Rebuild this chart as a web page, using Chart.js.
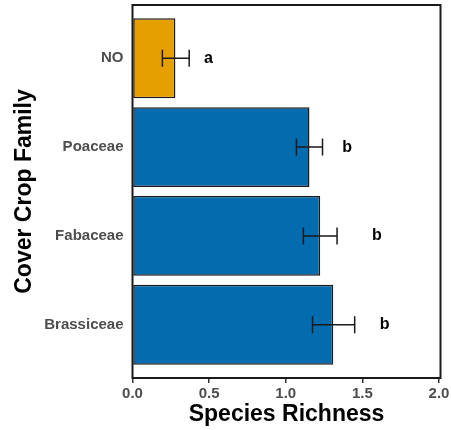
<!DOCTYPE html>
<html>
<head>
<meta charset="utf-8">
<script src="https://cdn.jsdelivr.net/npm/chart.js@4/dist/chart.umd.min.js"></script>
<style>
  html, body { margin: 0; padding: 0; background: #ffffff; }
  #wrap { width: 451px; height: 430px; position: relative; }
</style>
</head>
<body>
<div id="wrap"><canvas id="c"></canvas></div>
<script>
// Cover crop families and mean species richness with error bar limits
const categories = ['NO', 'Poaceae', 'Fabaceae', 'Brassiceae'];
const richness = [0.28, 1.155, 1.225, 1.31];
const errLow = [0.195, 1.07, 1.115, 1.175];
const errHigh = [0.37, 1.24, 1.335, 1.45];
const groupLetters = ['a', 'b', 'b', 'b'];
const letterX = [0.495, 1.40, 1.595, 1.645];
const xTicks = [0, 0.5, 1.0, 1.5, 2.0];
const barColors = ['#E69F00', '#036CAE', '#036CAE', '#036CAE'];

const FONT = '"Liberation Sans", Arial, Helvetica, sans-serif';
const INK = '#1a1a1a';

const overlay = {
  id: 'overlay',
  afterDatasetsDraw(chart) {
    const { ctx, chartArea, scales } = chart;
    const xs = scales.x, ys = scales.y;
    ctx.save();
    // error bars
    ctx.strokeStyle = INK;
    ctx.lineWidth = 1.5;
    categories.forEach((c, i) => {
      const y = ys.getPixelForValue(i);
      const x0 = xs.getPixelForValue(errLow[i]);
      const x1 = xs.getPixelForValue(errHigh[i]);
      ctx.beginPath();
      ctx.moveTo(x0, y); ctx.lineTo(x1, y);
      ctx.moveTo(x0, y - 8.5); ctx.lineTo(x0, y + 8.5);
      ctx.moveTo(x1, y - 8.5); ctx.lineTo(x1, y + 8.5);
      ctx.stroke();
    });
    // significance letters
    ctx.fillStyle = '#000000';
    ctx.font = 'bold 16px ' + FONT;
    ctx.textAlign = 'center';
    ctx.textBaseline = 'middle';
    categories.forEach((c, i) => {
      ctx.fillText(groupLetters[i], xs.getPixelForValue(letterX[i]), ys.getPixelForValue(i));
    });
    // panel frame
    ctx.lineWidth = 2;
    ctx.strokeStyle = INK;
    ctx.strokeRect(chartArea.left, chartArea.top, chartArea.right - chartArea.left, chartArea.bottom - chartArea.top);
    ctx.restore();
  }
};

function noEdgePadding(s) {
  s.paddingTop = 0; s.paddingBottom = 0; s.paddingLeft = 0; s.paddingRight = 0;
}

new Chart(document.getElementById('c'), {
  type: 'bar',
  data: {
    datasets: [{
      data: categories.map((c, i) => ({ x: richness[i], y: i })),
      backgroundColor: barColors,
      borderColor: INK,
      borderWidth: 1.5,
      borderSkipped: false,
      barPercentage: 0.9,
      categoryPercentage: 1.0
    }]
  },
  options: {
    indexAxis: 'y',
    responsive: true,
    maintainAspectRatio: false,
    animation: false,
    layout: { padding: { top: 5, right: 10.5, bottom: 0, left: 0 } },
    plugins: { legend: { display: false }, tooltip: { enabled: false } },
    scales: {
      x: {
        type: 'linear',
        min: 0,
        max: 2.01,
        afterBuildTicks: (s) => { s.ticks = xTicks.map(v => ({ value: v })); },
        afterFit: (s) => { s.height = 52; noEdgePadding(s); },
        border: { display: false },
        grid: { drawOnChartArea: false, drawTicks: true, tickLength: 5, color: '#333333', lineWidth: 1.5 },
        ticks: {
          color: '#4d4d4d',
          font: { family: FONT, size: 15, weight: 'bold' },
          padding: 2,
          maxRotation: 0,
          callback: (v) => Number(v).toFixed(1)
        },
        title: {
          display: true,
          text: 'Species Richness',
          color: '#000000',
          font: { family: FONT, size: 23, weight: 'bold' },
          padding: { top: 0, bottom: 1.2 }
        }
      },
      y: {
        type: 'linear',
        reverse: true,
        offset: false,
        min: -0.6,
        max: 3.6,
        afterBuildTicks: (s) => { s.ticks = categories.map((c, i) => ({ value: i })); },
        afterFit: (s) => { s.width = 132.5; noEdgePadding(s); },
        border: { display: false },
        grid: { offset: false, drawOnChartArea: false, drawTicks: false },
        ticks: {
          color: '#4d4d4d',
          font: { family: FONT, size: 15, weight: 'bold' },
          padding: 9,
          callback: (v) => categories[v] ?? ''
        },
        title: {
          display: true,
          text: 'Cover Crop Family',
          color: '#000000',
          font: { family: FONT, size: 23, weight: 'bold' },
          padding: { top: 11, bottom: 0 }
        }
      }
    }
  },
  plugins: [overlay]
});
</script>
</body>
</html>
